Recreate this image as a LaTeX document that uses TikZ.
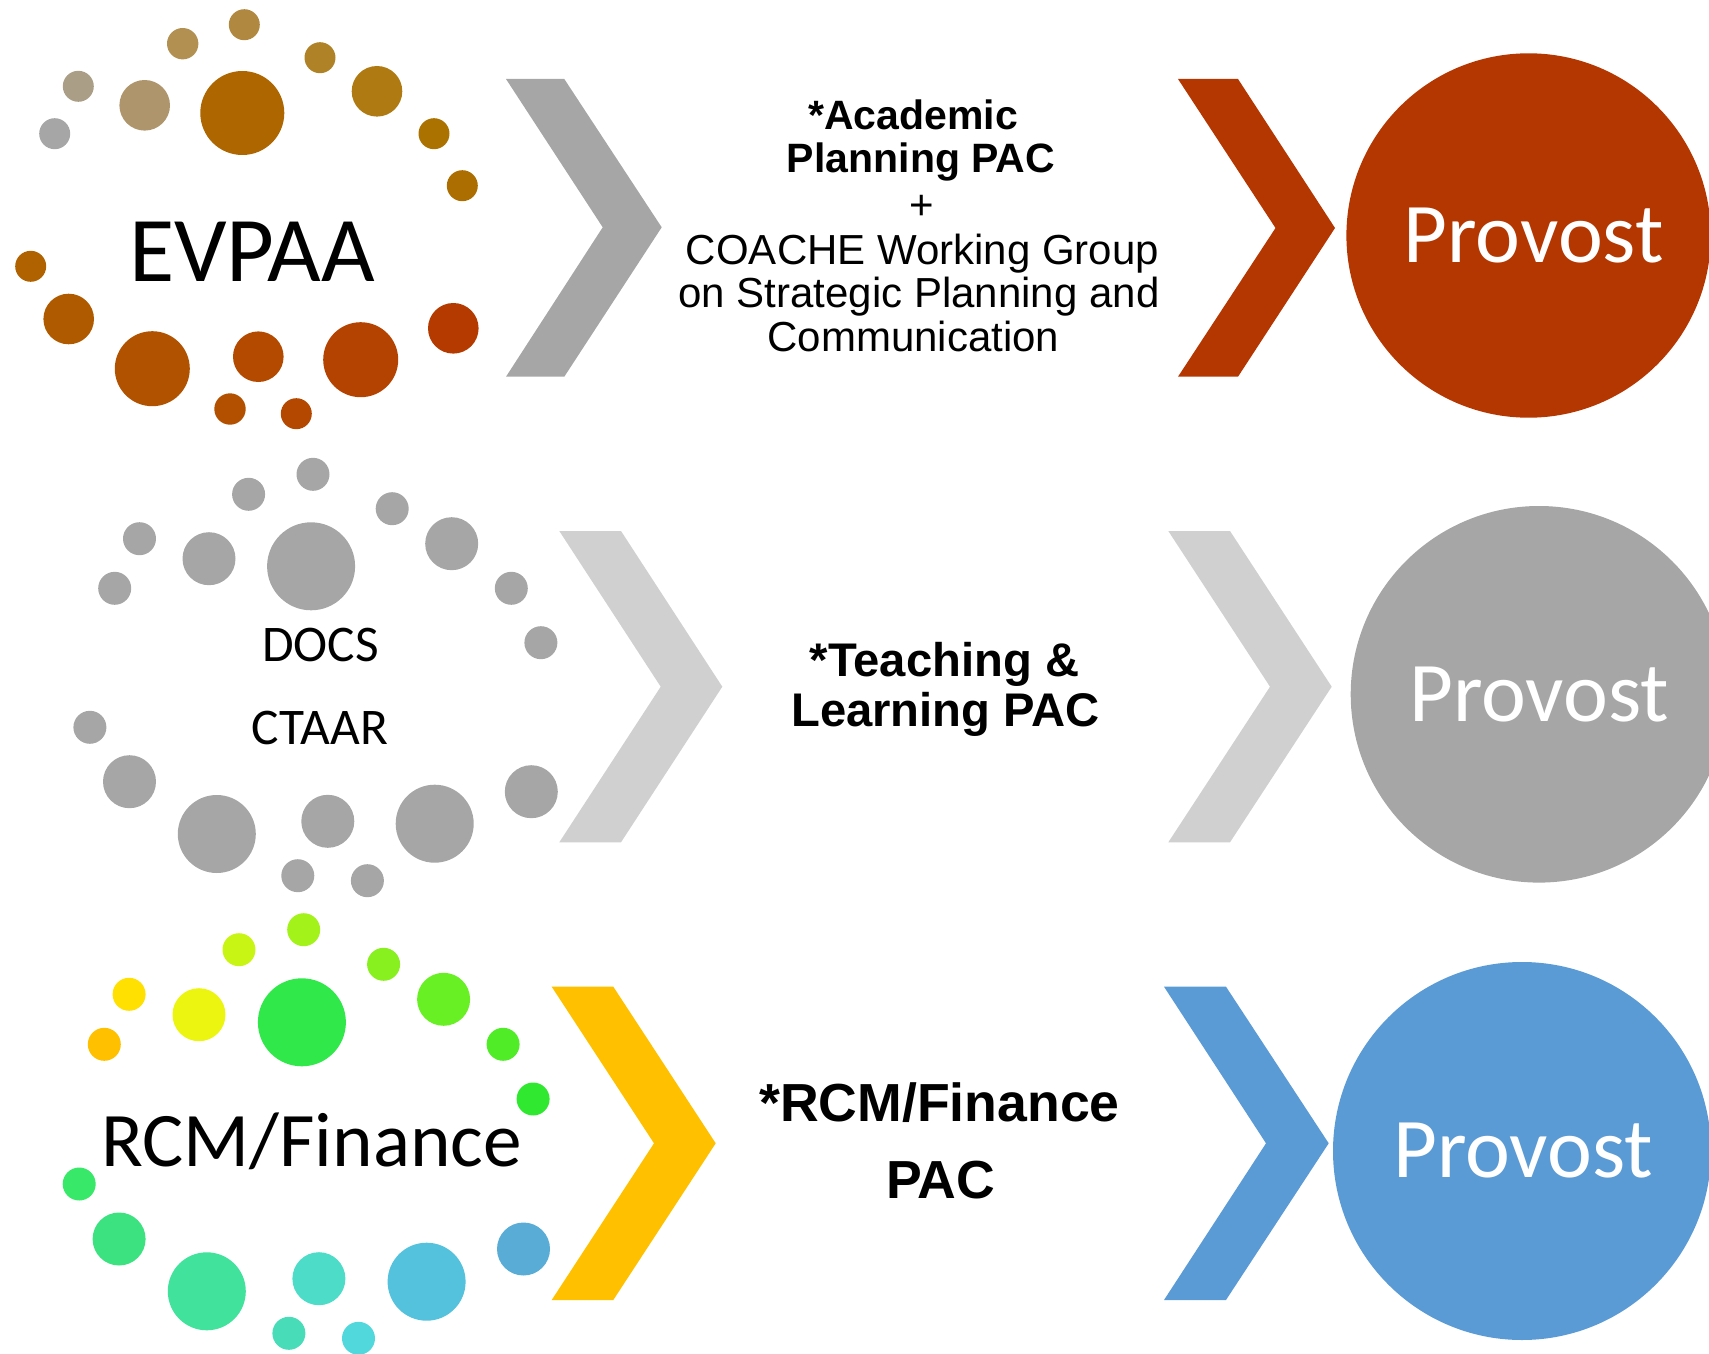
\documentclass[tikz,border=0pt]{standalone}
\usepackage{fontspec}
\setmainfont{Carlito}
\newfontfamily\arialfont{Liberation Sans}
% cluster 1 colours
\definecolor{ea}{HTML}{A6A6A6}\definecolor{eb}{HTML}{AB9E86}\definecolor{ec}{HTML}{AE956C}
\definecolor{ed}{HTML}{B29052}\definecolor{ee}{HTML}{B08840}\definecolor{ef}{HTML}{AE6600}
\definecolor{eg}{HTML}{AF8228}\definecolor{eh}{HTML}{AF7A12}\definecolor{ei}{HTML}{AC7200}
\definecolor{ej}{HTML}{AC6E00}\definecolor{ek}{HTML}{B06200}\definecolor{el}{HTML}{B05A00}
\definecolor{em}{HTML}{B05200}\definecolor{en}{HTML}{B44A00}\definecolor{eo}{HTML}{B44200}
\definecolor{ep}{HTML}{B43A00}\definecolor{eq}{HTML}{B25000}\definecolor{er}{HTML}{B44800}
% cluster 3 colours
\definecolor{ra}{HTML}{A3F21A}\definecolor{rb}{HTML}{C8F514}\definecolor{rc}{HTML}{88F01E}
\definecolor{rd}{HTML}{FFE000}\definecolor{re}{HTML}{FFC000}\definecolor{rf}{HTML}{ECF50F}
\definecolor{rg}{HTML}{30E84A}\definecolor{rh}{HTML}{68F024}\definecolor{ri}{HTML}{50EC28}
\definecolor{rj}{HTML}{30E830}\definecolor{rk}{HTML}{38E868}\definecolor{rl}{HTML}{3CE280}
\definecolor{rm}{HTML}{40E29C}\definecolor{rn}{HTML}{4CDCC8}\definecolor{ro}{HTML}{54C2DC}
\definecolor{rp}{HTML}{58ACD6}\definecolor{rq}{HTML}{48DCB8}\definecolor{rr}{HTML}{50D8DC}
% shapes
\definecolor{midgray}{HTML}{A6A6A6}
\definecolor{lightgray}{HTML}{D0D0D0}
\definecolor{provred}{RGB}{180,54,0}
\definecolor{provgold}{HTML}{FFC000}
\definecolor{provblue}{HTML}{5B9BD5}
\begin{document}
\begin{tikzpicture}[x=0.5pt,y=-0.5pt,
  lbl/.style={inner sep=0pt, anchor=base, text=black},
  mid/.style={inner sep=0pt, anchor=base, text=black},
  provost/.style={circle, inner sep=0pt, text=white, font=\fontsize{42.5}{42.5}\selectfont}]
\useasboundingbox (0,0) rectangle (1709,1354);
\clip (0,0) rectangle (1709,1354);

% ---------- cluster 1 (EVPAA)
\fill[ea] (54.7,133.7) circle[radius=15.5];
\fill[eb] (78.3,86.3) circle[radius=15.5];
\fill[ec] (144.7,105.3) circle[radius=25.3];
\fill[ed] (182.7,43.7) circle[radius=15.7];
\fill[ee] (244.3,24.7) circle[radius=15.5];
\fill[ef] (242.3,113) circle[radius=42];
\fill[eg] (320,57.7) circle[radius=15.5];
\fill[eh] (377,91.3) circle[radius=25.3];
\fill[ei] (434,133.7) circle[radius=15.5];
\fill[ej] (462.3,185.7) circle[radius=15.5];
\fill[ek] (30.7,266.3) circle[radius=15.5];
\fill[el] (68.7,319) circle[radius=25.3];
\fill[em] (152.3,368.7) circle[radius=37.5];
\fill[en] (258.3,356.7) circle[radius=25.3];
\fill[eo] (360.7,359.7) circle[radius=37.5];
\fill[ep] (453.3,328.3) circle[radius=25.3];
\fill[eq] (230,409) circle[radius=15.7];
\fill[er] (296.3,413.7) circle[radius=15.5];
\node[lbl, font=\fontsize{46.3}{46.3}\selectfont] (evpaa) at (252,281.5) {EVPAA};

% ---------- cluster 2 (DOCS / CTAAR)
\foreach \x/\y/\r in {313/474.3/16.5, 248.6/494.3/16.5, 392.2/508.7/16.5, 139.5/538.7/16.5,
  114.7/588.3/16.5, 209/558.7/26.5, 311.1/566.3/44, 451.7/543.7/26.5, 511.3/588.3/16.5,
  540.9/642.7/16.5, 89.9/727.3/16.5, 129.5/781.7/26.5, 216.8/834/39, 327.8/821.3/26.5,
  434.7/823.7/39, 531.3/791.7/26.5, 297.8/875.7/16.5, 367.4/880.7/16.5}
  {\fill[midgray] (\x,\y) circle[radius=\r];}
\node[lbl, font=\fontsize{25.7}{25.7}\selectfont] (docs) at (320.5,661.7) {DOCS};
\node[lbl, font=\fontsize{25.7}{25.7}\selectfont] (ctaar) at (320,744) {CTAAR};

% ---------- cluster 3 (RCM/Finance)
\fill[ra] (303.7,929.7) circle[radius=16.5];
\fill[rb] (239,949.7) circle[radius=16.5];
\fill[rc] (383.6,964.3) circle[radius=16.5];
\fill[rd] (129.1,994.3) circle[radius=16.5];
\fill[re] (104.3,1044.3) circle[radius=16.5];
\fill[rf] (199,1014.7) circle[radius=26.5];
\fill[rg] (301.9,1022.3) circle[radius=44];
\fill[rh] (443.6,999.3) circle[radius=26.5];
\fill[ri] (503.1,1044.3) circle[radius=16.5];
\fill[rj] (533.1,1099) circle[radius=16.5];
\fill[rk] (79.2,1184) circle[radius=16.5];
\fill[rl] (119.1,1239) circle[radius=26.5];
\fill[rm] (206.8,1291.3) circle[radius=39];
\fill[rn] (318.9,1278.7) circle[radius=26.5];
\fill[ro] (426.6,1281.7) circle[radius=39];
\fill[rp] (523.5,1249) circle[radius=26.5];
\fill[rq] (288.9,1333.3) circle[radius=16.5];
\fill[rr] (358.5,1338.3) circle[radius=16.5];
\node[lbl, font=\fontsize{38.6}{38.6}\selectfont] (rcm) at (311.5,1166.7) {RCM/Finance};

% ---------- chevrons
\fill[midgray] (506,79) -- (564.3,79) -- (661.7,227.3) -- (564.3,376.7) -- (506,376.7) -- (602.7,227.3) -- cycle;
\fill[provred] (1178,79) -- (1238,79) -- (1335,228) -- (1238,376.7) -- (1178,376.7) -- (1275.5,228) -- cycle;
\fill[lightgray] (559.3,531) -- (621,531) -- (722.3,686.7) -- (621,842.3) -- (559.3,842.3) -- (660.7,686.7) -- cycle;
\fill[lightgray] (1168.3,531) -- (1230,531) -- (1331.7,686.7) -- (1230,842.3) -- (1168.3,842.3) -- (1270,686.7) -- cycle;
\fill[provgold] (551.7,986.7) -- (613.3,986.7) -- (715.7,1143.3) -- (613.3,1300) -- (551.7,1300) -- (654,1143.3) -- cycle;
\fill[provblue] (1164,986.7) -- (1226,986.7) -- (1328.7,1143.3) -- (1226,1300) -- (1164,1300) -- (1266,1143.3) -- cycle;

% ---------- provost circles
\node[provost, fill=provred, minimum size=182.2pt] (prov1) at (1528.6,235.5) {\hspace*{5pt}Provost};
\node[provost, fill=midgray, minimum size=188.3pt] (prov2) at (1539,694.3) {Provost};
\node[provost, fill=provblue, minimum size=189pt] (prov3) at (1522,1151) {\hspace*{1pt}Provost};

% ---------- middle texts
\node[mid, font=\arialfont\bfseries\fontsize{20.5}{20.5}\selectfont] (ap1) at (913,129.5) {*Academic};
\node[mid, font=\arialfont\bfseries\fontsize{20.5}{20.5}\selectfont] (ap2) at (921,173) {Planning PAC};
\node[mid, font=\arialfont\fontsize{21}{21}\selectfont] (ap3) at (922,219.5) {+};
\node[mid, font=\arialfont\fontsize{21}{21}\selectfont] (ap4) at (922.5,264) {COACHE Working Group};
\node[mid, font=\arialfont\fontsize{21}{21}\selectfont] (ap5) at (919,307.5) {on Strategic Planning and};
\node[mid, font=\arialfont\fontsize{21}{21}\selectfont] (ap6) at (913.5,351) {Communication};

\node[mid, font=\arialfont\bfseries\fontsize{23.6}{23.6}\selectfont] (tl1) at (944.5,676.7) {*Teaching \&};
\node[mid, font=\arialfont\bfseries\fontsize{23.6}{23.6}\selectfont] (tl2) at (945.5,726.7) {Learning PAC};

\node[mid, font=\arialfont\bfseries\fontsize{26.8}{26.8}\selectfont] (rf1) at (939.5,1121.7) {*RCM/Finance};
\node[mid, font=\arialfont\bfseries\fontsize{26.8}{26.8}\selectfont] (rf2) at (940.8,1198.3) {PAC};
\end{tikzpicture}
\end{document}
